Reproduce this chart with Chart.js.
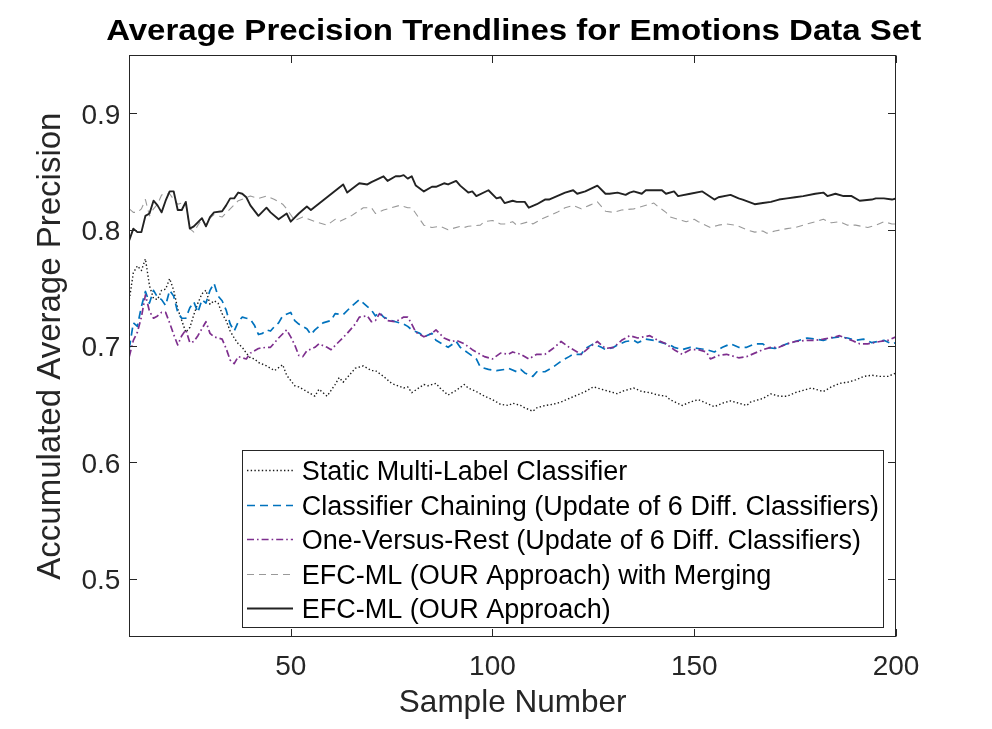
<!DOCTYPE html>
<html><head><meta charset="utf-8">
<script src="https://cdn.jsdelivr.net/npm/chart.js@4.4.1/dist/chart.umd.min.js"></script>
<style>html,body{margin:0;padding:0;background:#fff;overflow:hidden}canvas{display:block}</style>
</head><body>
<canvas id="c" width="992" height="729" style="width:992px;height:729px"></canvas>
<script>
const FONT = '"Liberation Sans", Arial, Helvetica, sans-serif';
const titleText = 'Average Precision Trendlines for Emotions Data Set';
const xTitle = 'Sample Number';
const yTitle = 'Accumulated Average Precision';
const xTicks = [50, 100, 150, 200];
const yTicks = [0.5, 0.6, 0.7, 0.8, 0.9];
const seriesNames = [
  'Static Multi-Label Classifier',
  'Classifier Chaining (Update of 6 Diff. Classifiers)',
  'One-Versus-Rest (Update of 6 Diff. Classifiers)',
  'EFC-ML (OUR Approach) with Merging',
  'EFC-ML (OUR Approach)'
];

const staticX = [10,11,12,13,14,15,16,17,18,19,20,21,22,23,24,25,26,27,28,29,30,31,32,33,34,35,36,37,38,39,40,41,42,44,45,46,48,49,51,52,54,56,57,59,61,62,63,65,66,68,70,71,73,75,78,79,80,83,84,86,87,89,91,93,94,96,98,100,102,104,105,107,108,110,111,113,115,117,119,121,123,125,127,129,131,132,135,137,139,141,143,144,147,149,151,153,155,157,159,161,163,164,167,169,171,173,175,177,179,182,184,186,188,190,192,194,196,198,200];
const staticY = [0.740,0.763,0.769,0.765,0.775,0.752,0.741,0.740,0.748,0.749,0.758,0.748,0.732,0.722,0.712,0.716,0.727,0.737,0.745,0.748,0.736,0.739,0.737,0.728,0.722,0.713,0.707,0.702,0.699,0.694,0.690,0.689,0.686,0.683,0.681,0.679,0.684,0.675,0.666,0.665,0.661,0.657,0.663,0.657,0.667,0.673,0.669,0.677,0.681,0.683,0.679,0.679,0.674,0.668,0.664,0.665,0.660,0.667,0.666,0.668,0.664,0.658,0.662,0.667,0.664,0.661,0.657,0.654,0.650,0.649,0.651,0.649,0.647,0.644,0.647,0.649,0.650,0.652,0.655,0.658,0.661,0.665,0.663,0.661,0.659,0.661,0.664,0.661,0.660,0.658,0.657,0.654,0.649,0.652,0.654,0.651,0.648,0.651,0.653,0.651,0.649,0.652,0.655,0.659,0.657,0.657,0.660,0.662,0.664,0.661,0.665,0.668,0.669,0.671,0.674,0.675,0.674,0.674,0.677];

const ccX = [10,11,12,13,14,15,16,17,18,19,20,21,22,23,24,25,26,27,28,29,30,31,32,33,34,35,36,37,38,39,40,41,42,43,44,45,46,47,48,50,51,52,54,55,56,58,60,61,63,65,67,69,70,71,72,73,75,76,78,79,80,82,83,85,86,88,89,91,92,94,96,97,99,101,103,104,106,107,108,110,111,113,115,117,119,120,122,123,125,127,128,130,131,133,135,136,138,140,142,144,145,147,149,151,153,155,157,159,161,163,165,167,168,170,173,175,178,180,182,184,186,188,190,192,194,197,199,200];
const ccY = [0.698,0.720,0.717,0.734,0.747,0.737,0.748,0.742,0.740,0.735,0.748,0.743,0.729,0.724,0.724,0.733,0.738,0.729,0.740,0.737,0.748,0.754,0.743,0.739,0.731,0.719,0.713,0.721,0.725,0.724,0.723,0.718,0.710,0.711,0.714,0.713,0.717,0.720,0.726,0.729,0.722,0.719,0.715,0.710,0.714,0.720,0.722,0.728,0.727,0.734,0.740,0.734,0.731,0.726,0.729,0.725,0.722,0.721,0.719,0.717,0.714,0.711,0.708,0.711,0.705,0.701,0.699,0.704,0.699,0.694,0.689,0.682,0.680,0.679,0.680,0.681,0.678,0.680,0.677,0.674,0.678,0.678,0.682,0.687,0.691,0.693,0.693,0.698,0.702,0.699,0.697,0.699,0.701,0.704,0.705,0.703,0.706,0.705,0.703,0.701,0.699,0.697,0.699,0.698,0.697,0.695,0.699,0.702,0.699,0.699,0.702,0.702,0.699,0.698,0.702,0.704,0.707,0.706,0.705,0.707,0.708,0.707,0.705,0.706,0.703,0.705,0.702,0.703];

const ovrX = [10,11,12,13,14,15,16,17,18,19,20,21,22,23,24,25,26,27,28,29,30,31,33,34,35,36,37,39,40,42,44,45,47,49,50,51,52,53,54,56,57,59,60,62,64,66,67,69,70,71,72,74,76,78,79,80,81,83,85,86,88,90,91,93,95,97,98,100,102,104,105,107,109,111,113,115,117,119,121,122,124,126,128,130,132,134,136,139,141,143,145,147,149,151,153,154,156,158,161,163,165,167,169,171,173,175,178,180,182,185,186,189,191,193,196,198,200];
const ovrY = [0.691,0.705,0.712,0.725,0.744,0.730,0.724,0.726,0.729,0.729,0.720,0.710,0.701,0.709,0.714,0.703,0.704,0.709,0.715,0.721,0.711,0.708,0.706,0.698,0.688,0.685,0.691,0.689,0.694,0.698,0.699,0.699,0.707,0.714,0.708,0.701,0.692,0.691,0.696,0.699,0.702,0.699,0.697,0.704,0.711,0.719,0.725,0.726,0.721,0.722,0.728,0.722,0.721,0.725,0.725,0.719,0.712,0.708,0.711,0.714,0.707,0.704,0.705,0.702,0.697,0.693,0.691,0.689,0.694,0.693,0.695,0.693,0.689,0.693,0.693,0.698,0.704,0.699,0.695,0.693,0.699,0.704,0.698,0.699,0.705,0.709,0.707,0.709,0.705,0.702,0.697,0.693,0.697,0.697,0.695,0.689,0.692,0.693,0.690,0.691,0.694,0.697,0.699,0.699,0.702,0.704,0.705,0.705,0.706,0.708,0.709,0.705,0.702,0.702,0.704,0.705,0.708];

const mergeX = [10,11,12,13,14,15,16,17,18,19,20,21,22,23,24,25,26,27,28,29,30,31,33,35,37,40,42,44,46,48,49,51,53,56,59,61,62,65,68,70,71,73,75,77,79,80,82,83,85,87,89,92,93,94,97,98,100,102,103,105,106,109,110,112,114,116,118,120,122,124,126,128,130,132,135,137,140,141,143,144,147,148,150,151,154,156,158,160,161,163,165,167,168,170,173,175,177,180,182,184,186,188,190,193,195,197,199,200];
const mergeY = [0.818,0.815,0.815,0.818,0.826,0.812,0.818,0.822,0.830,0.831,0.831,0.826,0.822,0.823,0.823,0.801,0.798,0.804,0.809,0.804,0.810,0.813,0.811,0.818,0.825,0.829,0.827,0.829,0.826,0.822,0.818,0.808,0.811,0.807,0.804,0.809,0.807,0.812,0.819,0.819,0.814,0.817,0.819,0.821,0.819,0.819,0.809,0.804,0.802,0.803,0.800,0.803,0.802,0.803,0.804,0.807,0.808,0.805,0.805,0.807,0.804,0.807,0.805,0.809,0.812,0.815,0.819,0.821,0.818,0.821,0.824,0.816,0.815,0.817,0.818,0.820,0.823,0.820,0.815,0.811,0.808,0.807,0.809,0.807,0.802,0.804,0.805,0.804,0.803,0.800,0.798,0.799,0.797,0.799,0.801,0.802,0.804,0.807,0.809,0.806,0.807,0.804,0.804,0.802,0.804,0.807,0.805,0.805];

const efcX = [10,11,12,13,14,15,16,17,18,19,20,21,22,23,24,25,26,28,29,30,31,33,34,35,36,37,38,39,40,42,44,45,47,49,50,52,54,55,59,63,64,67,69,70,73,74,76,77,78,79,80,81,83,85,86,88,89,91,92,94,95,96,99,101,102,103,105,106,108,109,111,113,114,116,118,120,121,123,126,128,129,131,133,134,135,137,138,142,143,145,146,149,152,155,156,159,161,162,165,167,169,171,173,175,177,180,182,183,185,187,189,191,194,195,197,199,200];
const efcY = [0.791,0.801,0.798,0.798,0.812,0.814,0.825,0.821,0.815,0.825,0.833,0.833,0.817,0.817,0.824,0.801,0.803,0.810,0.803,0.811,0.815,0.816,0.821,0.827,0.827,0.832,0.831,0.828,0.821,0.812,0.819,0.815,0.809,0.814,0.807,0.814,0.820,0.817,0.828,0.839,0.832,0.840,0.839,0.841,0.846,0.842,0.846,0.846,0.847,0.844,0.846,0.838,0.833,0.837,0.837,0.840,0.839,0.842,0.838,0.832,0.833,0.829,0.834,0.827,0.828,0.823,0.825,0.824,0.824,0.819,0.822,0.826,0.826,0.829,0.832,0.834,0.831,0.833,0.838,0.831,0.831,0.832,0.830,0.832,0.833,0.831,0.834,0.834,0.831,0.833,0.829,0.831,0.833,0.826,0.828,0.830,0.827,0.826,0.822,0.823,0.824,0.826,0.827,0.828,0.829,0.831,0.832,0.829,0.831,0.829,0.829,0.825,0.826,0.827,0.827,0.826,0.827];

const pts = (xs, ys) => xs.map((x, i) => ({ x: x, y: ys[i] }));
const AXC = '#262626';

const framePlugin = {
  id: 'frame',
  afterDatasetsDraw(chart) {
    const { ctx, chartArea: a, scales: { x, y } } = chart;
    const L = Math.round(a.left) + 0.5, R = Math.round(a.right) - 0.5;
    const T = Math.round(a.top) + 0.5, B = Math.round(a.bottom) - 0.5;
    const tl = 7.5;
    ctx.save();
    ctx.strokeStyle = AXC; ctx.lineWidth = 1; ctx.setLineDash([]);
    ctx.strokeRect(L, T, R - L, B - T);
    ctx.beginPath();
    x.ticks.forEach(t => {
      const p = Math.round(x.getPixelForValue(t.value)) + 0.5;
      ctx.moveTo(p, B); ctx.lineTo(p, B - tl);
      ctx.moveTo(p, T); ctx.lineTo(p, T + tl);
    });
    y.ticks.forEach(t => {
      const p = Math.round(y.getPixelForValue(t.value)) + 0.5;
      ctx.moveTo(L, p); ctx.lineTo(L + tl, p);
      ctx.moveTo(R, p); ctx.lineTo(R - tl, p);
    });
    ctx.stroke();
    ctx.restore();
  }
};

const titlePlugin = {
  id: 'mtitle',
  afterDraw(chart) {
    const { ctx, chartArea: a } = chart;
    ctx.save();
    ctx.font = 'bold 29.5px ' + FONT;
    ctx.fillStyle = '#000';
    ctx.textAlign = 'center'; ctx.textBaseline = 'alphabetic';
    const w = ctx.measureText(titleText).width;
    const sx = w > 0 ? 815 / w : 1;
    ctx.translate((a.left + a.right) / 2 + 1, 39.5);
    ctx.scale(sx, 1);
    ctx.fillText(titleText, 0, 0);
    ctx.restore();
  }
};

const legendPlugin = {
  id: 'mlegend',
  afterDraw(chart) {
    const { ctx } = chart;
    const bx = 242.5, by = 450.5, bw = 641, bh = 177;
    ctx.save();
    ctx.fillStyle = '#fff';
    ctx.fillRect(bx, by, bw, bh);
    ctx.strokeStyle = AXC; ctx.lineWidth = 1; ctx.setLineDash([]);
    ctx.strokeRect(bx, by, bw, bh);
    ctx.font = '27px ' + FONT;
    ctx.textAlign = 'left'; ctx.textBaseline = 'alphabetic';
    chart.data.datasets.forEach((ds, i) => {
      const base = 480 + 34.6 * i;
      const ly = Math.round(base - 10) + 0.5;
      ctx.beginPath();
      ctx.strokeStyle = ds.borderColor;
      ctx.lineWidth = ds.borderWidth;
      ctx.setLineDash(ds.borderDash || []);
      ctx.moveTo(247, ly); ctx.lineTo(293, ly);
      ctx.stroke();
      ctx.setLineDash([]);
      ctx.fillStyle = '#000';
      ctx.fillText(ds.label, 301.7, base);
    });
    ctx.restore();
  }
};

const common = { pointRadius: 0, pointHoverRadius: 0, tension: 0, fill: false, borderJoinStyle: 'round' };

new Chart(document.getElementById('c').getContext('2d'), {
  type: 'line',
  data: {
    datasets: [
      Object.assign({ label: seriesNames[0], data: pts(staticX, staticY), borderColor: '#1a1a1a', borderWidth: 1.4, borderDash: [1.4, 2.3], order: 5 }, common),
      Object.assign({ label: seriesNames[1], data: pts(ccX, ccY), borderColor: '#0072BD', borderWidth: 1.7, borderDash: [8, 5], order: 4 }, common),
      Object.assign({ label: seriesNames[2], data: pts(ovrX, ovrY), borderColor: '#7E2F8E', borderWidth: 1.7, borderDash: [7, 3, 1.6, 3], order: 3 }, common),
      Object.assign({ label: seriesNames[3], data: pts(mergeX, mergeY), borderColor: '#999999', borderWidth: 1.1, borderDash: [7, 5], order: 2 }, common),
      Object.assign({ label: seriesNames[4], data: pts(efcX, efcY), borderColor: '#222222', borderWidth: 1.9, borderDash: [], order: 1 }, common)
    ]
  },
  options: {
    responsive: false,
    animation: false,
    devicePixelRatio: 1,
    layout: { padding: { left: 0, right: 96, top: 55.3, bottom: 0 } },
    plugins: { legend: { display: false }, title: { display: false }, tooltip: { enabled: false } },
    scales: {
      x: {
        type: 'linear', min: 10, max: 200,
        afterBuildTicks: s => { s.ticks = xTicks.map(v => ({ value: v })); },
        afterFit: s => { s.height = 92; },
        grid: { display: false, drawTicks: false },
        border: { display: false },
        ticks: { font: { family: FONT, size: 28 }, color: AXC, padding: 13.8, maxRotation: 0, autoSkip: false },
        title: { display: true, text: xTitle, color: AXC, font: { family: FONT, size: 31.5, lineHeight: 1.2 }, padding: { top: 0, bottom: 6.3 } }
      },
      y: {
        type: 'linear', min: 0.45, max: 0.95,
        afterBuildTicks: s => { s.ticks = yTicks.map(v => ({ value: v })); },
        afterFit: s => { s.width = 129.3; },
        grid: { display: false, drawTicks: false },
        border: { display: false },
        ticks: { font: { family: FONT, size: 28 }, color: AXC, padding: 9, labelOffset: 2.6, callback: v => Number(v).toFixed(1) },
        title: { display: true, text: yTitle, color: AXC, font: { family: FONT, size: 33, lineHeight: 1.2 }, padding: { top: 30.8, bottom: 0 } }
      }
    }
  },
  plugins: [framePlugin, legendPlugin, titlePlugin]
});
</script>
</body></html>
